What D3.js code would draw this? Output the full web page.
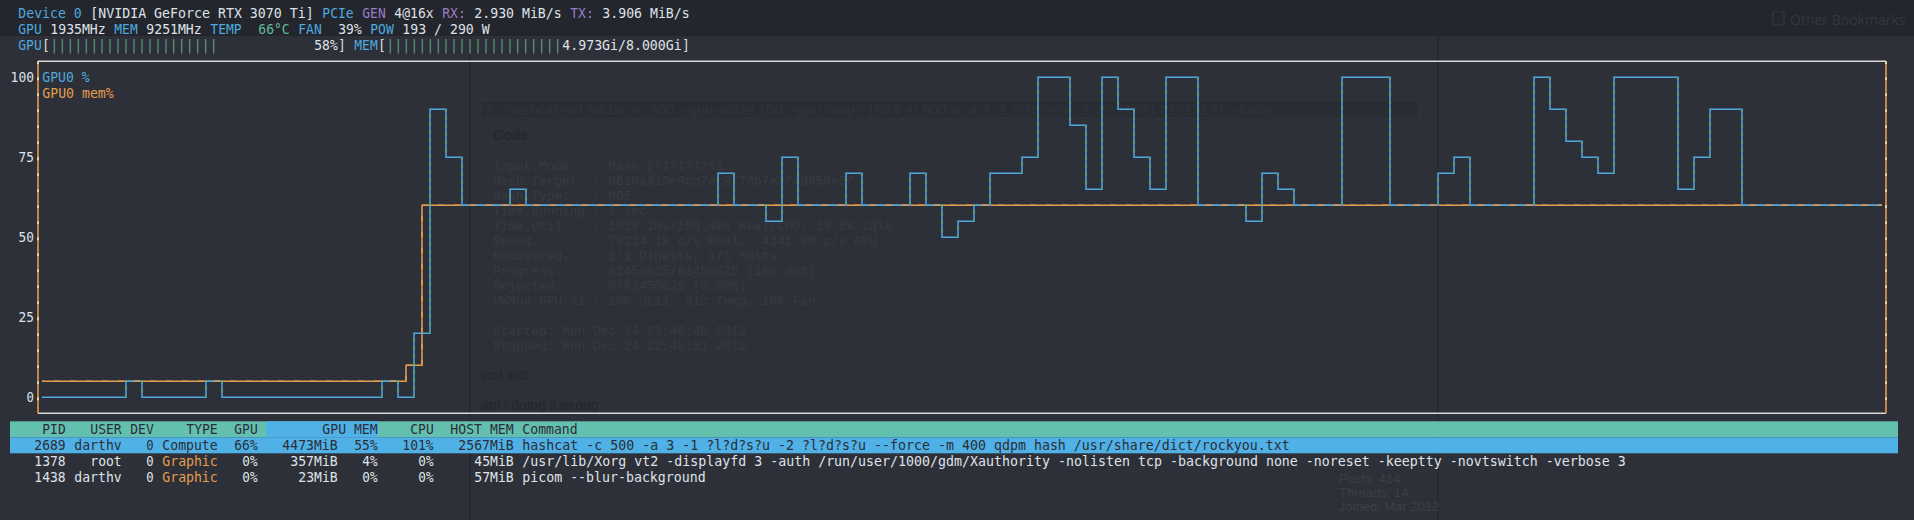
<!DOCTYPE html>
<html><head><meta charset="utf-8">
<script src="https://cdn.jsdelivr.net/npm/d3@7"></script>
<style>
html,body{margin:0;padding:0;background:#2e3039;overflow:hidden}
svg{display:block}
text{white-space:pre}
</style></head><body>
<svg id="c" width="1914" height="520"></svg>
<script>
// ---------------- data ----------------
const gpuUtil = [0,0,0,0,0,0,5,0,0,0,0,5,0,0,0,0,0,0,0,0,
  0,0,5,0,20,90,75,60,60,60,65,60,60,60,60,60,60,60,60,60,
  60,60,60,70,60,60,55,75,60,60,60,70,60,60,60,70,60,50,55,60,
  70,70,75,100,100,85,65,100,90,75,65,100,100,60,60,60,55,70,65,60,
  60,60,100,100,100,60,60,60,70,75,60,60,60,60,100,90,80,75,70,100,
  100,100,100,65,75,90,90,60,60,60,60,60,60,60,60,60];
const memUtil = [5,5,5,5,5,5,5,5,5,5,5,5,5,5,5,5,5,5,5,5,
  5,5,5,5,10,60,60,60,60,60,60,60,60,60,60,60,60,60,60,60,
  60,60,60,60,60,60,60,60,60,60,60,60,60,60,60,60,60,60,60,60,
  60,60,60,60,60,60,60,60,60,60,60,60,60,60,60,60,60,60,60,60,
  60,60,60,60,60,60,60,60,60,60,60,60,60,60,60,60,60,60,60,60,
  60,60,60,60,60,60,60,60,60,60,60,60,60,60,60,60,60];
const yTicks = [0, 25, 50, 75, 100];
const seriesNames = ["GPU0 %", "GPU0 mem%"];

const deviceName = "NVIDIA GeForce RTX 3070 Ti";
const pcieGen = "4@16x", rxRate = "2.930 MiB/s", txRate = "3.906 MiB/s";
const gpuClock = "1935MHz", memClock = "9251MHz", temp = "66°C", fan = "39%", power = "193 / 290 W";
const gpuGauge = 58;           // %
const memUsed = 4.973, memTotal = 8.000; // GiB

const tableHeaders = ["PID","USER","DEV","TYPE","GPU","GPU MEM","CPU","HOST MEM","Command"];
const pids = [2689, 1378, 1438];
const users = ["darthv", "root", "darthv"];
const devs = [0, 0, 0];
const types = ["Compute", "Graphic", "Graphic"];
const gpuPct = ["66%", "0%", "0%"];
const gpuMem = ["4473MiB", "357MiB", "23MiB"];
const gpuMemPct = ["55%", "4%", "0%"];
const cpuPct = ["101%", "0%", "0%"];
const hostMem = ["2567MiB", "45MiB", "57MiB"];
const commands = [
  "hashcat -c 500 -a 3 -1 ?l?d?s?u -2 ?l?d?s?u --force -m 400 qdpm_hash /usr/share/dict/rockyou.txt",
  "/usr/lib/Xorg vt2 -displayfd 3 -auth /run/user/1000/gdm/Xauthority -nolisten tcp -background none -noreset -keeptty -novtswitch -verbose 3",
  "picom --blur-background"
];

// faint background (translucent terminal shows a browser behind)
const bgCmd = "$ ./hashcat-ocl-64.bin -c 500 --gpu-accel 160 --gpu-loops 1024 -n 800 o -a 3 -1 ?l?d?s?u -2 ?l?d?s?u ?1?1?1?1 --force";
const bgCode = [
  "Input.Mode...: Mask (?1?1?1?1)",
  "Hash.Target..: 0610a910e9cd7ec9f78b7e3f4d959e5f",
  "Hash.Type....: MD5",
  "Time.Running.: 1 sec",
  "Time.Util....: 1028.2ms/168.4ms Real/CPU, 19.6% idle",
  "Speed........: 79214.1k c/s Real,  4241.3M c/s GPU",
  "Recovered....: 1/1 Digests, 1/1 Salts",
  "Progress.....: 81450625/81450625 (100.00%)",
  "Rejected.....: 0/81450625 (0.00%)",
  "HWMon.GPU.#1.: 28% Util, 41c Temp, 10% Fan",
  "",
  "Started: Mon Dec 24 22:46:49 2012",
  "Stopped: Mon Dec 24 22:46:51 2012"
];
const bgPosts = ["Posts: 414", "Threads: 14", "Joined: Mar 2012"];

// ---------------- layout / style ----------------
const W = 1914, H = 520;
const CW = 8, RH = 16, X0 = 2, Y0 = 5.3;
const cx = c => X0 + CW * c;
const cy = r => Y0 + RH * r + RH / 2;
const FONT = "'DejaVu Sans Mono', 'Liberation Mono', monospace";
const FS = 13.2;
const C = {
  bg: '#2e3039', band: '#23262d', blue: '#4ea9de', orange: '#e49c4b', green: '#5c9e7d',
  teal: '#63b99c', purple: '#9a7cc6', white: '#dfe2e7', dark: '#2b2e37',
  hdr: '#64c0ae', sel: '#50b1e6', border: '#d8d8d8', faint: '#383a42'
};

const svg = d3.select('#c');
svg.append('rect').attr('width', W).attr('height', H).attr('fill', C.bg);
svg.append('rect').attr('width', W).attr('height', 36).attr('fill', C.band);

// ---------- faint background layer ----------
const bgl = svg.append('g');
[470, 1438].forEach(x => bgl.append('line').attr('x1', x).attr('x2', x).attr('y1', 36).attr('y2', H)
  .attr('stroke', '#272930').attr('stroke-width', 2));
bgl.append('rect').attr('x', 482).attr('y', 100).attr('width', 936).attr('height', 264)
  .attr('fill', 'none').attr('stroke', '#32343c').attr('stroke-width', 1);
bgl.append('rect').attr('x', 482).attr('y', 101).attr('width', 936).attr('height', 16).attr('fill', '#2a2c33');
bgl.append('text').attr('x', 485).attr('y', 109).attr('dominant-baseline', 'central')
  .attr('font-family', "'Liberation Sans', Arial, sans-serif").attr('font-size', 15).attr('fill', '#31333b').text(bgCmd);
bgl.append('text').attr('x', 493).attr('y', 135).attr('dominant-baseline', 'central').attr('font-weight', 'bold')
  .attr('font-family', "'Liberation Sans', Arial, sans-serif").attr('font-size', 14).attr('fill', '#25272e').text("Code:");
bgCode.forEach((s, i) => {
  if (!s) return;
  bgl.append('text').attr('x', 493).attr('y', 166 + 15 * i).attr('dominant-baseline', 'central')
    .attr('font-family', "'Liberation Mono', monospace").attr('font-size', 12.8).attr('fill', C.faint).text(s);
});
bgl.append('text').attr('x', 481).attr('y', 375).attr('dominant-baseline', 'central')
  .attr('font-family', "'Liberation Sans', Arial, sans-serif").attr('font-size', 14).attr('fill', '#24262c').text("wot wot");
bgl.append('text').attr('x', 481).attr('y', 405).attr('dominant-baseline', 'central')
  .attr('font-family', "'Liberation Sans', Arial, sans-serif").attr('font-size', 14).attr('fill', '#24262c').text("am i doing it wrong");
bgPosts.forEach((s, i) => bgl.append('text').attr('x', 1339).attr('y', 478 + 14 * i).attr('dominant-baseline', 'central')
  .attr('font-family', "'Liberation Sans', Arial, sans-serif").attr('font-size', 13).attr('fill', '#3c3e47').text(s));
bgl.append('rect').attr('x', 1773).attr('y', 12).attr('width', 11).attr('height', 13).attr('rx', 1)
  .attr('fill', 'none').attr('stroke', '#343740').attr('stroke-width', 1.2);
bgl.append('text').attr('x', 1790).attr('y', 19).attr('dominant-baseline', 'central')
  .attr('font-family', "'Open Sans', 'Liberation Sans', sans-serif").attr('font-size', 14).attr('fill', '#343740').text("Other Bookmarks");

// ---------- terminal text helpers ----------
const fg = svg.append('g').attr('font-family', FONT).attr('font-size', FS);
function tt(g, col, row, s, color) {
  const lead = s.length - s.trimStart().length;
  const t = s.trim();
  if (!t) return;
  g.append('text').attr('x', cx(col + lead) + 0.3).attr('y', cy(row)).attr('fill', color)
    .attr('textLength', t.length * CW - 0.6).attr('lengthAdjust', 'spacingAndGlyphs')
    .attr('dominant-baseline', 'central').text(t);
}
function tline(g, col, row, segs) {
  let c = col;
  segs.forEach(([s, color]) => { tt(g, c, row, s, color); c += s.length; });
  return c;
}
function tright(g, endCol, row, s, color) { tt(g, endCol + 1 - String(s).length, row, String(s), color); }

// ---------- header lines ----------
tline(fg, 2, 0, [["Device 0", C.blue], [" [" + deviceName + "] ", C.white], ["PCIe", C.blue], [" ", C.white],
  ["GEN", C.purple], [" " + pcieGen + " ", C.white], ["RX:", C.purple], [" " + rxRate + " ", C.white],
  ["TX:", C.purple], [" " + txRate, C.white]]);
tline(fg, 2, 1, [["GPU", C.blue], [" " + gpuClock + " ", C.white], ["MEM", C.blue], [" " + memClock + " ", C.white],
  ["TEMP", C.blue], ["  " + temp + " ", C.teal], ["FAN", C.blue], ["  " + fan + " ", C.white],
  ["POW", C.blue], [" " + power, C.white]]);

// gauges
function gauge(startCol, endCol, label, frac, text) {
  tt(fg, startCol, 2, label, C.blue);
  const open = startCol + label.length;
  tt(fg, open, 2, "[", C.white);
  tt(fg, endCol, 2, "]", C.white);
  const inner = endCol - open - 1;
  const nb = Math.min(Math.round(frac * inner), inner - text.length);
  if (nb > 0) tt(fg, open + 1, 2, "|".repeat(nb), C.green);
  tt(fg, endCol - text.length, 2, text, C.white);
}
gauge(2, 42, "GPU", gpuGauge / 100, gpuGauge + "%");
gauge(44, 85, "MEM", memUsed / memTotal, memUsed.toFixed(3) + "Gi/" + memTotal.toFixed(3) + "Gi");

// ---------- chart ----------
const N = gpuUtil.length;
const x = d3.scaleLinear().domain([0, N]).range([cx(3.5), cx(235.5)]);
const y = d3.scaleLinear().domain([0, 100]).range([cy(24), cy(4)]);
const plotL = cx(5), plotR = cx(235), frameL = cx(4) + 4, frameR = cx(235) + 4;
const frameT = cy(3), frameB = cy(25);

svg.append('clipPath').attr('id', 'plot').append('rect')
  .attr('x', plotL).attr('y', frameT).attr('width', plotR - plotL).attr('height', frameB - frameT);

// frame
svg.append('line').attr('x1', frameL).attr('x2', frameR).attr('y1', frameT).attr('y2', frameT)
  .attr('stroke', C.border).attr('stroke-width', 1.6);
svg.append('line').attr('x1', frameL).attr('x2', frameR).attr('y1', frameB).attr('y2', frameB)
  .attr('stroke', C.border).attr('stroke-width', 1.6);
[frameL, frameR].forEach(xx => {
  svg.append('line').attr('x1', xx).attr('x2', xx).attr('y1', frameT).attr('y2', frameB)
    .attr('stroke', C.orange).attr('stroke-width', 1.6);
  svg.append('line').attr('x1', xx).attr('x2', xx).attr('y1', frameT).attr('y2', frameB)
    .attr('stroke', '#f3e3c8').attr('stroke-width', 1.6).attr('stroke-dasharray', '3,13');
});

// axis
const ax = svg.append('g').attr('transform', `translate(${cx(4)},0)`)
  .call(d3.axisLeft(y).tickValues(yTicks).tickSize(0).tickPadding(0).tickFormat(d3.format('d')));
ax.select('.domain').remove();
ax.selectAll('text').attr('fill', C.white).attr('font-family', FONT).attr('font-size', FS)
  .attr('textLength', d => String(d).length * CW - 0.6).attr('lengthAdjust', 'spacingAndGlyphs');

// legend
tt(fg, 5, 4, seriesNames[0], C.blue);
tt(fg, 5, 5, seriesNames[1], C.orange);

const pg = svg.append('g').attr('clip-path', 'url(#plot)').attr('fill', 'none');
const line = d3.line().curve(d3.curveStepAfter).x(d => d[0]).y(d => d[1]);
const gpuPts = gpuUtil.map((v, i) => [x(i), y(v)]).concat([[x(N), y(gpuUtil[N - 1])]]);
const memPts = memUtil.map((v, j) => [x(j - 0.5), y(v)]).concat([[x(memUtil.length - 0.5), y(memUtil[memUtil.length - 1])]]);

pg.append('path').attr('d', line(memPts)).attr('stroke', C.orange).attr('stroke-width', 1.5);
pg.append('path').attr('d', line(gpuPts)).attr('stroke', C.blue).attr('stroke-width', 1.5);
// green dashes on GPU vertical steps
const verts = [];
for (let i = 1; i < N; i++) if (gpuUtil[i] !== gpuUtil[i - 1]) verts.push([i, gpuUtil[i - 1], gpuUtil[i]]);
pg.selectAll('line.v').data(verts).join('line').attr('class', 'v')
  .attr('x1', d => x(d[0])).attr('x2', d => x(d[0])).attr('y1', d => y(d[1])).attr('y2', d => y(d[2]))
  .attr('stroke', '#5aa27a').attr('stroke-width', 1.5).attr('stroke-dasharray', '3,5');
// mem overlay dashes (interleaving where both series overlap)
pg.append('path').attr('d', line(memPts)).attr('stroke', C.orange).attr('stroke-width', 1.5)
  .attr('stroke-dasharray', '6,10');

// ---------- process table ----------
const tb = svg.append('g');
tb.append('rect').attr('x', cx(1)).attr('y', cy(26) - 8).attr('width', cx(237) - cx(1)).attr('height', RH).attr('fill', C.hdr);
tb.append('rect').attr('x', cx(33)).attr('y', cy(26) - 8).attr('width', cx(47) - cx(33)).attr('height', RH).attr('fill', C.sel);
tb.append('rect').attr('x', cx(1)).attr('y', cy(27) - 8).attr('width', cx(237) - cx(1)).attr('height', RH).attr('fill', C.sel);
const tg = svg.append('g').attr('font-family', FONT).attr('font-size', FS);
const colEnds = [7, 14, 18, 26, 31, 46, 53, 63];
tableHeaders.slice(0, 8).forEach((h, k) => tright(tg, colEnds[k], 26, h, C.dark));
tt(tg, 65, 26, tableHeaders[8], C.dark);
pids.forEach((p, i) => {
  const r = 27 + i, sel = i === 0;
  const col = sel ? C.dark : C.white;
  tright(tg, 7, r, p, col);
  tright(tg, 14, r, users[i], col);
  tright(tg, 18, r, devs[i], col);
  tright(tg, 26, r, types[i], sel ? C.dark : (types[i] === 'Graphic' ? C.orange : C.teal));
  tright(tg, 31, r, gpuPct[i], col);
  tright(tg, 41, r, gpuMem[i], col);
  tright(tg, 46, r, gpuMemPct[i], col);
  tright(tg, 53, r, cpuPct[i], col);
  tright(tg, 63, r, hostMem[i], col);
  tt(tg, 65, r, commands[i], col);
});
</script>
</body></html>
